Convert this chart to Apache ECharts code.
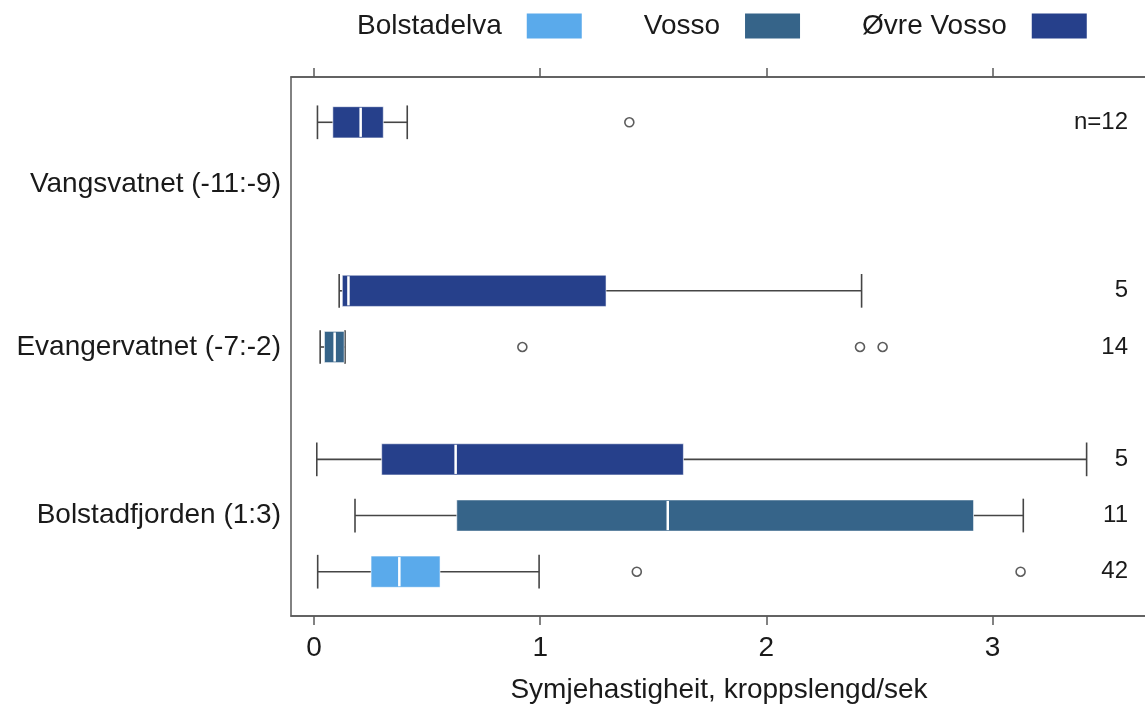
<!DOCTYPE html>
<html>
<head>
<meta charset="utf-8">
<script src="https://cdn.jsdelivr.net/npm/echarts@6/dist/echarts.min.js"></script>
<style>
html,body{margin:0;padding:0;background:#fff;}
#c{width:1145px;height:704px;}
</style>
</head>
<body>
<div id="c"></div>
<script>
// ---- data ----
const groups = ['Vangsvatnet (-11:-9)', 'Evangervatnet (-7:-2)', 'Bolstadfjorden (1:3)'];
const rivers = ['Øvre Vosso', 'Vosso', 'Bolstadelva'];          // top-to-bottom order inside a group
const legendOrder = ['Bolstadelva', 'Vosso', 'Øvre Vosso'];
// five-number summaries per group: [min, q1, median, q3, max]
const statsBolstadelva = [null, null, [0.016, 0.252, 0.377, 0.557, 0.995]];
const statsVosso = [null, [0.027, 0.046, 0.091, 0.133, 0.137], [0.181, 0.631, 1.564, 2.916, 3.136]];
const statsOevreVosso = [[0.015, 0.083, 0.206, 0.306, 0.412], [0.111, 0.125, 0.152, 1.291, 2.421], [0.012, 0.299, 0.626, 1.633, 3.416]];
const outliersBolstadelva = [[], [], [1.427, 3.124]];
const outliersVosso = [[], [0.921, 2.414, 2.514], []];
const outliersOevreVosso = [[1.394], [], []];
const nBolstadelva = [null, null, 42];
const nVosso = [null, 14, 11];
const nOevreVosso = [12, 5, 5];
const xTicks = [0, 1, 2, 3];
const xTitle = 'Symjehastigheit, kroppslengd/sek';

// ---- build ----
const riverData = {
  'Bolstadelva': {stats: statsBolstadelva, out: outliersBolstadelva, n: nBolstadelva},
  'Vosso': {stats: statsVosso, out: outliersVosso, n: nVosso},
  'Øvre Vosso': {stats: statsOevreVosso, out: outliersOevreVosso, n: nOevreVosso}
};
const colors = {'Bolstadelva': '#5aaaeb', 'Vosso': '#366489', 'Øvre Vosso': '#26408b'};

const rowKeys = [];
const rowGroupLabel = [];
const rowN = [];
let firstN = true;
groups.forEach((g, gi) => {
  rivers.forEach((r, ri) => {
    rowKeys.push(g + '|' + r);
    rowGroupLabel.push(ri === 1 ? (gi === 0 ? '{low|' + g + '}' : g) : '');
    const n = riverData[r].n[gi];
    if (n == null) rowN.push('');
    else { rowN.push((firstN ? 'n=' : '') + n); firstN = false; }
  });
});
function rowIndex(gi, r) { return gi * rivers.length + rivers.indexOf(r); }

const xMin = -0.102, xMax = 3.683;
const lineCol = '#595959';
const textCol = '#1a1a1a';

function renderBox(color) {
  return function (params, api) {
    const row = api.value(0);
    const p = [1, 2, 3, 4, 5].map(i => api.coord([api.value(i), row]));
    const band = api.size([0, 1])[1];
    const cy = p[0][1];
    const bh = band * 0.555, ch = band * 0.6;
    const ls = {stroke: '#454545', lineWidth: 1.6};
    return {
      type: 'group',
      children: [
        {type: 'line', shape: {x1: p[0][0], y1: cy, x2: p[1][0], y2: cy}, style: ls},
        {type: 'line', shape: {x1: p[3][0], y1: cy, x2: p[4][0], y2: cy}, style: ls},
        {type: 'line', shape: {x1: p[0][0], y1: cy - ch / 2, x2: p[0][0], y2: cy + ch / 2}, style: ls},
        {type: 'line', shape: {x1: p[4][0], y1: cy - ch / 2, x2: p[4][0], y2: cy + ch / 2}, style: ls},
        {type: 'rect', shape: {x: p[1][0], y: cy - bh / 2, width: p[3][0] - p[1][0], height: bh},
          style: {fill: color, stroke: 'rgba(255,255,255,0.55)', lineWidth: 1}},
        {type: 'line', shape: {x1: p[2][0], y1: cy - bh / 2 + 1, x2: p[2][0], y2: cy + bh / 2 - 1},
          style: {stroke: '#ffffff', lineWidth: 2.5}}
      ]
    };
  };
}

const series = [];
legendOrder.forEach(r => {
  const d = riverData[r];
  const boxData = [];
  const outData = [];
  groups.forEach((g, gi) => {
    const s = d.stats[gi];
    if (s) boxData.push([rowIndex(gi, r)].concat(s));
    d.out[gi].forEach(v => outData.push([v, rowIndex(gi, r)]));
  });
  series.push({
    name: r,
    type: 'custom',
    xAxisIndex: 2,
    yAxisIndex: 0,
    itemStyle: {color: colors[r]},
    encode: {y: 0, x: [1, 2, 3, 4, 5]},
    renderItem: renderBox(colors[r]),
    data: boxData,
    z: 3
  });
  series.push({
    name: r + ' (utliggarar)',
    type: 'scatter',
    xAxisIndex: 2,
    yAxisIndex: 0,
    symbol: 'circle',
    symbolSize: 9,
    itemStyle: {color: '#ffffff', borderColor: '#333333', borderWidth: 1.6},
    data: outData,
    z: 4
  });
});

const chart = echarts.init(document.getElementById('c'), null, {renderer: 'canvas'});
chart.setOption({
  animation: false,
  backgroundColor: '#ffffff',
  textStyle: {fontFamily: 'Liberation Sans, Arial, sans-serif'},
  legend: {
    data: legendOrder.map(n => ({name: n, icon: 'rect'})),
    left: 352,
    top: 7,
    align: 'right',
    itemWidth: 55,
    itemHeight: 25,
    itemGap: 62,
    itemStyle: {borderWidth: 0},
    textStyle: {fontSize: 28, color: textCol, padding: [0, 20, 0, 0]},
    selectedMode: false
  },
  grid: [
    {left: 291, right: -2, top: 77, bottom: 88, show: true, borderColor: lineCol, borderWidth: 1.5,
      backgroundColor: 'transparent', outerBoundsMode: 'none'},
    {left: 291, right: -2, top: 94.2, bottom: 104.2, outerBoundsMode: 'none'}
  ],
  xAxis: [
    {gridIndex: 0, type: 'value', min: xMin, max: xMax, position: 'bottom',
      axisLine: {show: true, lineStyle: {color: lineCol, width: 1.5}},
      axisTick: {show: true, customValues: xTicks, length: 9, lineStyle: {color: lineCol, width: 1.5}},
      axisLabel: {show: true, customValues: xTicks, fontSize: 28, color: textCol, margin: 18},
      splitLine: {show: false},
      name: xTitle, nameLocation: 'middle', nameGap: 60,
      nameTextStyle: {fontSize: 28, color: textCol}},
    {gridIndex: 0, type: 'value', min: xMin, max: xMax, position: 'top',
      axisLine: {show: true, lineStyle: {color: lineCol, width: 1.5}},
      axisTick: {show: true, customValues: xTicks, length: 9, lineStyle: {color: lineCol, width: 1.5}},
      axisLabel: {show: false},
      splitLine: {show: false}},
    {gridIndex: 1, type: 'value', min: xMin, max: xMax, show: false, splitLine: {show: false}}
  ],
  yAxis: [
    {gridIndex: 1, type: 'category', data: rowKeys, inverse: true,
      axisLine: {show: false}, axisTick: {show: false}, splitLine: {show: false},
      axisLabel: {interval: 0, fontSize: 28, color: textCol, margin: 10,
        formatter: (v, i) => rowGroupLabel[i],
        rich: {low: {fontSize: 28, color: textCol, padding: [11, 0, 0, 0]}}}},
    {gridIndex: 1, type: 'category', data: rowKeys, inverse: true, position: 'right',
      axisLine: {show: false}, axisTick: {show: false}, splitLine: {show: false},
      axisLabel: {interval: 0, inside: true, fontSize: 24, color: textCol, margin: 19,
        formatter: (v, i) => rowN[i]}},
    {gridIndex: 0, type: 'value', show: false, splitLine: {show: false}}
  ],
  series: series
});
</script>
</body>
</html>
